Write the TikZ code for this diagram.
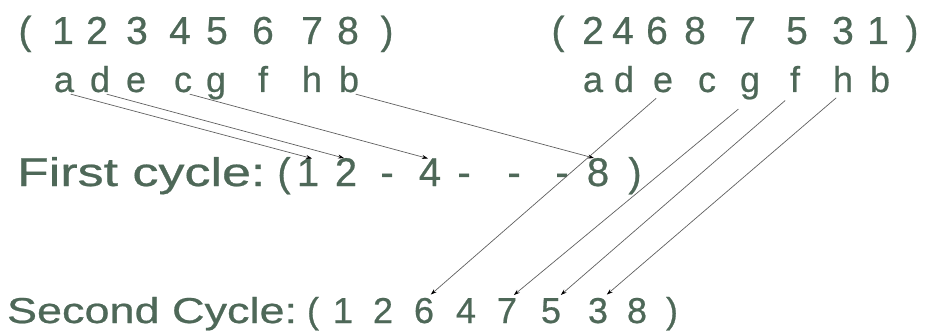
\documentclass[tikz,border=0pt]{standalone}
\usepackage{fontspec}
\setmainfont[FakeBold=0.6]{Liberation Sans}
\usetikzlibrary{arrows.meta}
\definecolor{txt}{RGB}{78,104,88}
\definecolor{ln}{RGB}{95,95,95}
\tikzset{
  ch/.style={inner sep=0pt, outer sep=0pt, anchor=base, text=txt},
  big/.style={ch, font=\fontsize{39}{42}\selectfont},
  mid/.style={ch, font=\fontsize{40}{44}\selectfont},
  sml/.style={ch, font=\fontsize{36}{40}\selectfont},
  let/.style={ch, font=\fontsize{36}{40}\selectfont},
  arr/.style={draw=ln, line width=0.7pt, -{Stealth[length=6pt,width=4pt,black]}}
}
\begin{document}
\begin{tikzpicture}[x=1pt,y=-1pt]
\useasboundingbox (0,0) rectangle (931,331);
% top left row
\node[big] (tlp) at (25,44) {(};
\node[big] (t1) at (63,44) {1};
\node[big] (t2) at (97,44) {2};
\node[big] (t3) at (137,44) {3};
\node[big] (t4) at (180,44) {4};
\node[big] (t5) at (217,44) {5};
\node[big] (t6) at (263,44) {6};
\node[big] (t7) at (312,44) {7};
\node[big] (t8) at (348,44) {8};
\node[big] (trp) at (387,44) {)};
% letters left
\node[let] (la) at (64,92) {a};
\node[let] (ld) at (100,92) {d};
\node[let] (le) at (136,92) {e};
\node[let] (lc) at (183,92) {c};
\node[let] (lg) at (216,92) {g};
\node[let] (lf) at (263,92) {f};
\node[let] (lh) at (312,92) {h};
\node[let] (lb) at (349,92) {b};
% top right row
\node[big] (ulp) at (558,44) {(};
\node[big] (u2) at (593,44) {2};
\node[big] (u4) at (623,44) {4};
\node[big] (u6) at (657,44) {6};
\node[big] (u8) at (695,44) {8};
\node[big] (u7) at (745,44) {7};
\node[big] (u5) at (797,44) {5};
\node[big] (u3) at (843,44) {3};
\node[big] (u1) at (878,44) {1};
\node[big] (urp) at (912,44) {)};
% letters right
\node[let] (ra) at (593,92) {a};
\node[let] (rd) at (624,92) {d};
\node[let] (re) at (663,92) {e};
\node[let] (rc) at (707,92) {c};
\node[let] (rg) at (750,92) {g};
\node[let] (rf) at (795,92) {f};
\node[let] (rh) at (843,92) {h};
\node[let] (rb) at (880,92) {b};
% first cycle
\node[mid, anchor=base west] (fc) at (17,186) {\scalebox{1.3}[1]{First cycle:}};
\node[mid] (flp) at (284,186) {(};
\node[mid] (f1) at (308,186) {1};
\node[mid] (f2) at (346,186) {2};
\node[mid] (fd1) at (387,186) {-};
\node[mid] (f4) at (430,186) {4};
\node[mid] (fd2) at (464,186) {-};
\node[mid] (fd3) at (514,186) {-};
\node[mid] (fd4) at (562,186) {-};
\node[mid] (f8) at (598,186) {8};
\node[mid] (frp) at (635,186) {)};
% second cycle
\node[sml, anchor=base west] (sc) at (7,323) {\scalebox{1.25}[1]{Second Cycle:}};
\node[sml] (slp) at (313,323) {(};
\node[sml] (s1) at (343,323) {1};
\node[sml] (s2) at (383,323) {2};
\node[sml] (s6) at (424,323) {6};
\node[sml] (s4) at (466,323) {4};
\node[sml] (s7) at (507,323) {7};
\node[sml] (s5) at (551,323) {5};
\node[sml] (s3) at (598,323) {3};
\node[sml] (s8) at (637,323) {8};
\node[sml] (srp) at (672,323) {)};
% arrows first cycle
\draw[arr, shorten <=7pt] (la.south) -- ([xshift=4pt]f1.north);
\draw[arr, shorten <=7pt] (ld.south) -- ([xshift=-2pt]f2.north);
\draw[arr, shorten <=7pt] (lc.south) -- ([xshift=-2pt]f4.north);
\draw[arr, shorten <=7pt] (lb.south) -- ([xshift=-4pt]f8.north);
% arrows second cycle
\draw[arr, shorten <=9pt, shorten >=5pt] (re.south) -- ([xshift=3pt]s6.north);
\draw[arr, shorten <=15pt, shorten >=5pt] (rg.south) -- ([xshift=3pt]s7.north);
\draw[arr, shorten <=13pt, shorten >=5pt] (rf.south) -- ([xshift=6pt]s5.north);
\draw[arr, shorten <=9pt, shorten >=5pt] (rh.south) -- ([xshift=5pt]s3.north);
\end{tikzpicture}
\end{document}
